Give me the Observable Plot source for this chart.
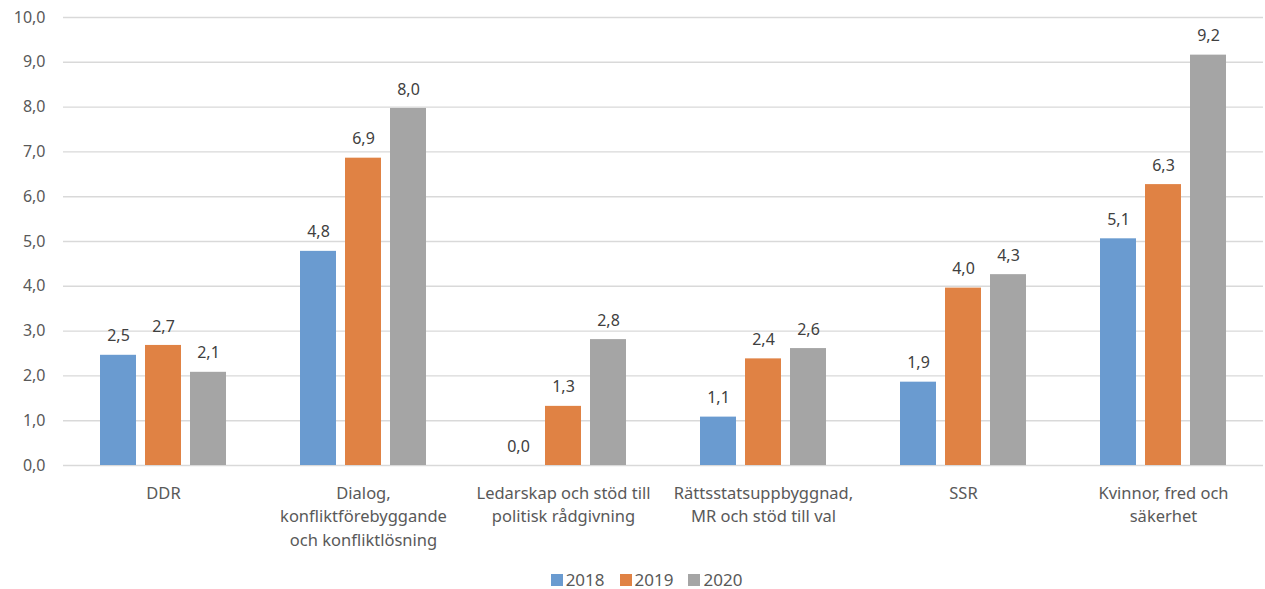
<!DOCTYPE html>
<html><head><meta charset="utf-8">
<script src="https://cdn.jsdelivr.net/npm/d3@7"></script>
<script src="https://cdn.jsdelivr.net/npm/@observablehq/plot@0.6"></script>
<style>
html,body{margin:0;background:#fff;font-family:"Noto Sans",sans-serif;overflow:hidden;}
#chart{height:560px;}
#legend{position:absolute;left:0;width:1265px;top:572px;display:flex;justify-content:center;align-items:center;gap:15px;height:16px;line-height:16px;font-size:17px;color:#595959;padding-left:28px;box-sizing:border-box;}
#legend .item{display:flex;align-items:center;gap:3px;}
#legend .sw{width:12px;height:12px;display:inline-block;}
</style>
</head><body><div id="chart"></div><div id="legend"></div>
<script>
const categories = ["DDR", "Dialog,\nkonfliktförebyggande\noch konfliktlösning", "Ledarskap och stöd till\npolitisk rådgivning", "Rättsstatsuppbyggnad,\nMR och stöd till val", "SSR", "Kvinnor, fred och\nsäkerhet"];
const years = ["2018", "2019", "2020"];
const values2018 = [2.46, 4.78, 0.0, 1.08, 1.86, 5.06];
const values2019 = [2.68, 6.86, 1.32, 2.38, 3.96, 6.27];
const values2020 = [2.08, 7.97, 2.81, 2.61, 4.26, 9.16];
const colors = ["#6a9bd0", "#e08244", "#a5a5a5"];
const yTicks = [0, 1, 2, 3, 4, 5, 6, 7, 8, 9, 10];

const series = [values2018, values2019, values2020];
const data = [];
categories.forEach((c, i) => years.forEach((y, j) => data.push({category: c, year: y, value: series[j][i]})));
const fmt = v => v.toFixed(1).replace(".", ",");

const plot = Plot.plot({
  width: 1265, height: 560,
  marginLeft: 60, marginRight: 0, marginTop: 17, marginBottom: 95,
  style: {fontFamily: "Noto Sans", fontSize: "16px", color: "#595959", background: "#fff"},
  fx: {domain: categories, padding: 0, label: null},
  x: {domain: years, paddingInner: 0.2, paddingOuter: 0.8, axis: null},
  y: {domain: [0, 10], label: null, axis: null},
  color: {domain: years, range: colors},
  marks: [
    Plot.ruleY(yTicks, {stroke: "#d9d9d9", strokeWidth: 1.4}),
    Plot.axisY({ticks: yTicks, tickFormat: fmt, tickSize: 0, tickPadding: 18, label: null, fontSize: 16, fill: "#595959"}),
    Plot.barY(data, {fx: "category", x: "year", y: "value", fill: "year"}),
    Plot.text(data, {fx: "category", x: "year", y: "value", text: d => fmt(d.value), dy: -19, fill: "#404040", fontSize: 16}),
    Plot.axisFx({anchor: "bottom", tickSize: 0, tickPadding: 16, label: null, lineHeight: 1.45, fontSize: 16.5, fill: "#595959"})
  ]
});
document.getElementById("chart").append(plot);

const legend = document.getElementById("legend");
years.forEach((y, j) => {
  const item = document.createElement("span");
  item.className = "item";
  const sw = document.createElement("span");
  sw.className = "sw";
  sw.style.background = colors[j];
  const t = document.createElement("span");
  t.textContent = y;
  item.append(sw, t);
  legend.append(item);
});
</script>
</body></html>
